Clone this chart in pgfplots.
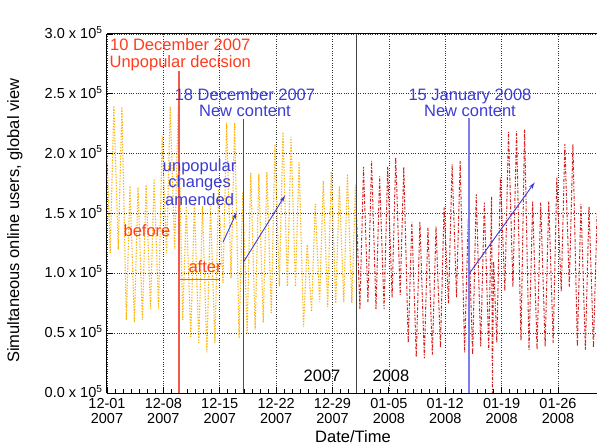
\documentclass[border=0pt]{standalone}
\usepackage{fontspec}
\setmainfont{Liberation Sans}
\usepackage{pgfplots}
\usepackage{pgfplotstable}
\pgfplotsset{compat=1.18}
\usetikzlibrary{arrows.meta}
\definecolor{dataorange}{RGB}{255,176,0}
\definecolor{datared}{RGB}{210,30,30}
\definecolor{annred}{RGB}{255,60,30}
\definecolor{linered}{RGB}{240,90,70}
\definecolor{annblue}{RGB}{60,60,210}
\definecolor{lightblue}{RGB}{125,125,235}
\newcommand{\annfont}{\fontsize{16.5bp}{18bp}\selectfont}

\pgfplotstableread{
x y
0 1.99
0.4 1.17
0.85 2.40
1.4 1.20
1.85 2.39
2.4 0.61
2.85 1.73
3.4 0.59
3.85 1.72
4.4 0.61
4.85 1.74
5.4 0.70
5.85 1.79
6.4 0.70
6.85 2.15
7.4 1.17
7.85 2.39
8.4 1.20
8.85 2.40
9.4 0.61
9.85 1.56
10.4 0.47
10.85 1.59
11.4 0.42
11.85 1.56
12.4 0.34
12.85 1.56
13.4 0.42
13.85 1.70
14.4 0.92
14.85 2.26
15.4 0.96
15.85 2.26
16.4 0.46
16.85 1.68
17.4 0.50
17.85 1.84
18.4 0.53
18.85 1.83
19.4 0.59
19.85 1.85
20.4 0.67
20.85 2.08
21.4 0.89
21.85 2.18
22.4 0.89
22.85 2.14
23.4 0.89
23.85 1.93
24.4 0.55
24.85 1.24
25.4 0.68
25.85 1.58
26.4 0.76
26.85 1.77
27.4 0.72
27.85 1.85
28.4 0.75
28.85 1.73
29.4 0.76
29.85 1.83
30.4 0.75
30.85 1.74
31.0 1.10
}\orangedata

\pgfplotstableread{
x y
31.0 1.45
31.4 0.70
31.85 1.89
32.4 0.76
32.85 1.94
33.4 0.70
33.85 1.81
34.4 0.70
34.85 1.89
35.4 0.80
35.85 1.97
36.4 0.82
36.85 1.89
37.4 0.42
37.85 1.43
38.4 0.30
38.85 1.43
39.4 0.29
39.85 1.38
40.4 0.32
40.85 1.39
41.4 0.38
41.85 1.55
42.4 0.75
42.85 1.91
43.4 0.80
43.85 1.94
44.4 0.34
44.85 1.45
45.4 0.32
45.85 1.66
46.4 0.39
46.85 1.59
47.4 0.36
47.75 1.64
47.85 0.00
48.0 1.10
48.4 0.42
48.85 1.80
49.4 0.85
49.85 2.18
50.4 0.89
50.85 2.19
51.4 0.44
51.85 2.20
52.4 0.36
52.85 1.60
53.4 0.36
53.85 1.59
54.4 0.39
54.85 1.60
55.4 0.42
55.85 1.80
56.4 0.85
56.85 2.08
57.4 0.89
57.85 2.08
58.4 0.39
58.85 1.58
59.4 0.36
59.85 1.56
60.4 0.38
60.85 1.50
}\reddata

\begin{document}
\begin{tikzpicture}
\begin{axis}[
  scale only axis,
  width=490bp, height=359bp,
  xmin=0, xmax=60.84, ymin=0, ymax=3,
  axis x line*=box, axis y line*=left,
  axis line style={black, line width=1bp},
  xtick={0,7,14,21,28,35,42,49,56},
  xticklabels={{12-01\\2007},{12-08\\2007},{12-15\\2007},{12-22\\2007},{12-29\\2007},{01-05\\2008},{01-12\\2008},{01-19\\2008},{01-26\\2008}},
  minor x tick num=6,
  xtick pos=lower,
  ytick={0,0.5,1,1.5,2,2.5,3},
  yticklabels={{0.0 x 10\textsuperscript{5}},{0.5 x 10\textsuperscript{5}},{1.0 x 10\textsuperscript{5}},{1.5 x 10\textsuperscript{5}},{2.0 x 10\textsuperscript{5}},{2.5 x 10\textsuperscript{5}},{3.0 x 10\textsuperscript{5}}},
  xticklabel style={align=center, font=\fontsize{14.5bp}{15bp}\selectfont, yshift=-1.5bp},
  yticklabel style={font=\fontsize{14.5bp}{15bp}\selectfont, xshift=-1bp, yshift=1.5bp},
  tick align=inside,
  major tick length=6bp, minor tick length=3.5bp,
  tick style={black, line width=0.8bp},
  grid=major,
  grid style={black!80, dotted, line width=0.7bp},
  xlabel={Date/Time},
  xlabel style={font=\annfont, at={(axis description cs:0.502,0)}, anchor=base, yshift=-49bp},
  ylabel={Simultaneous online users, global view},
  ylabel style={font=\annfont, at={(axis description cs:-0.188,0.48)}, anchor=center},
  clip=true,
]
\addplot[dataorange, line width=1.1bp, dash pattern=on 1.3bp off 1.5bp] table[x=x,y=y] {\orangedata};
\addplot[datared, line width=1bp, dash pattern=on 3bp off 1.6bp on 1bp off 1.6bp] table[x=x,y=y] {\reddata};

\draw[black!75, line width=1.6bp] (axis cs:31,0) -- (axis cs:31,3);
\draw[linered, line width=2bp] (axis cs:9,0) -- (axis cs:9,2.69);
\draw[linered, line width=1.5bp] (axis cs:9,0.947) -- (axis cs:14,0.947);
\draw[annblue, line width=1bp] (axis cs:17,0) -- (axis cs:17,2.29);
\draw[lightblue, line width=2bp] (axis cs:45,0) -- (axis cs:45,2.30);
\draw[annblue, line width=0.9bp, -{Stealth[length=7bp,width=4bp]}] (axis cs:14.4,1.26) -- (axis cs:16.1,1.51);
\draw[annblue, line width=0.9bp, -{Stealth[length=7bp,width=4bp]}] (axis cs:17,1.10) -- (axis cs:22.1,1.65);
\draw[annblue, line width=0.9bp, -{Stealth[length=7bp,width=4bp]}] (axis cs:45,1.00) -- (axis cs:53.1,1.76);

\node[annred, font=\annfont, anchor=base] at (axis cs:9.1,2.858) {10 December 2007};
\node[annred, font=\annfont, anchor=base] at (axis cs:9.1,2.716) {Unpopular decision};
\node[annblue, font=\annfont, anchor=base] at (axis cs:17.13,2.448) {18 December 2007};
\node[annblue, font=\annfont, anchor=base] at (axis cs:17.13,2.313) {New content};
\node[annblue, font=\annfont, anchor=base] at (axis cs:45.07,2.448) {15 January 2008};
\node[annblue, font=\annfont, anchor=base] at (axis cs:45.07,2.313) {New content};
\node[annblue, font=\annfont, anchor=base] at (axis cs:11.5,1.853) {unpopular};
\node[annblue, font=\annfont, anchor=base] at (axis cs:11.5,1.718) {changes};
\node[annblue, font=\annfont, anchor=base] at (axis cs:11.5,1.567) {amended};
\node[annred, font=\annfont, anchor=base] at (axis cs:4.97,1.308) {before};
\node[annred, font=\annfont, anchor=base] at (axis cs:12.17,1.006) {after};
\node[black, font=\annfont, anchor=base] at (axis cs:26.7,0.10) {2007};
\node[black, font=\annfont, anchor=base] at (axis cs:35.26,0.10) {2008};
\node[black, font=\fontsize{23bp}{25bp}\selectfont, anchor=base] at (rel axis cs:0.5,1) [yshift=10.7bp] {Number of players over time};
\coordinate (O) at (rel axis cs:0,0);
\end{axis}
\pgfresetboundingbox
\useasboundingbox (O) ++(-107bp,-54bp) rectangle ++(597bp,447bp);
\end{tikzpicture}
\end{document}
